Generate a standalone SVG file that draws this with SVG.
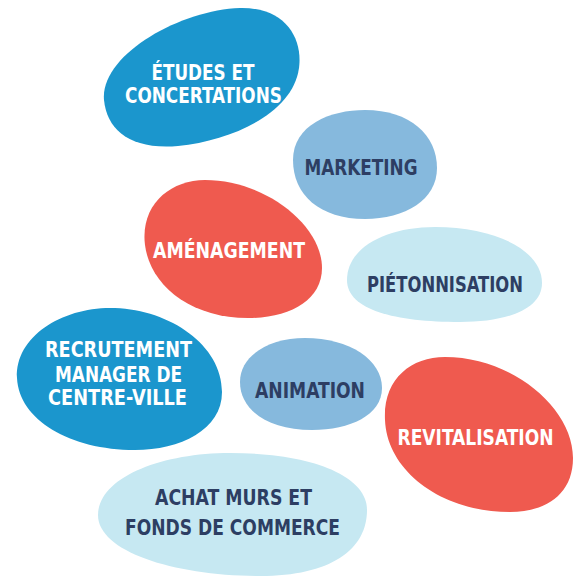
<svg xmlns="http://www.w3.org/2000/svg" width="574" height="577" viewBox="0 0 574 577">
<style>
.dark{fill:#1b96cd}.mid{fill:#86b9dd}.light{fill:#c6e8f2}.red{fill:#ef5a4f}
text{font-family:"DejaVu Sans Condensed","DejaVu Sans",sans-serif;font-stretch:condensed;font-weight:bold;font-size:21px;text-anchor:middle}
.w{fill:#ffffff}.n{fill:#2d3e63}
</style>
<rect width="574" height="577" fill="#ffffff"/>
<g id="etudes">
<path class="dark" d="M104,100 C100,55 180,10 240,8 C285,7 303,38 299,68 C293,112 235,140 178,146 C130,150 107,130 104,100 Z"/>
<text class="w" x="203" y="80" textLength="103" lengthAdjust="spacingAndGlyphs">ÉTUDES ET</text>
<text class="w" x="203.5" y="103" textLength="157" lengthAdjust="spacingAndGlyphs">CONCERTATIONS</text>
</g>
<g id="marketing">
<path class="mid" d="M293,160 C293,125 330,110 365,110 C410,110 437,135 437,168 C437,200 405,219 365,219 C320,219 293,195 293,160 Z"/>
<text class="n" x="361" y="175" textLength="113" lengthAdjust="spacingAndGlyphs">MARKETING</text>
</g>
<g id="amenagement">
<path class="red" d="M145,245 C140,205 170,180 205,180 C265,180 322,225 322,268 C322,300 290,318 248,318 C190,318 150,285 145,245 Z"/>
<text class="w" x="229" y="258" textLength="152" lengthAdjust="spacingAndGlyphs">AMÉNAGEMENT</text>
</g>
<g id="pietonnisation">
<path class="light" d="M347,280 C347,248 385,227 435,227 C495,227 542,250 542,283 C542,310 505,322 460,322 C395,322 347,310 347,280 Z"/>
<text class="n" x="445" y="292" textLength="156" lengthAdjust="spacingAndGlyphs">PIÉTONNISATION</text>
</g>
<g id="recrutement">
<path class="dark" d="M17,378 C15,335 65,306 115,308 C170,310 222,345 222,392 C222,430 180,450 135,450 C70,450 19,420 17,378 Z"/>
<text class="w" x="118.5" y="357" textLength="147" lengthAdjust="spacingAndGlyphs">RECRUTEMENT</text>
<text class="w" x="118.5" y="382" textLength="127" lengthAdjust="spacingAndGlyphs">MANAGER DE</text>
<text class="w" x="117.5" y="405" textLength="139" lengthAdjust="spacingAndGlyphs">CENTRE-VILLE</text>
</g>
<g id="animation">
<path class="mid" d="M240,382 C240,355 270,338 305,338 C350,338 382,360 382,388 C382,415 350,430 312,430 C268,430 240,410 240,382 Z"/>
<text class="n" x="310" y="398" textLength="110" lengthAdjust="spacingAndGlyphs">ANIMATION</text>
</g>
<g id="revitalisation">
<path class="red" d="M385,420 C383,380 410,357 445,357 C512,357 573,408 573,458 C573,495 545,512 510,512 C440,512 387,470 385,420 Z"/>
<text class="w" x="475.5" y="445" textLength="156" lengthAdjust="spacingAndGlyphs">REVITALISATION</text>
</g>
<g id="achat">
<path class="light" d="M98,515 C98,478 160,453 230,453 C310,453 367,475 367,510 C367,550 330,576 260,576 C175,576 98,552 98,515 Z"/>
<text class="n" x="233.5" y="505" textLength="157" lengthAdjust="spacingAndGlyphs">ACHAT MURS ET</text>
<text class="n" x="232.5" y="535" textLength="215" lengthAdjust="spacingAndGlyphs">FONDS DE COMMERCE</text>
</g>
<g id="connectors"/>
</svg>
